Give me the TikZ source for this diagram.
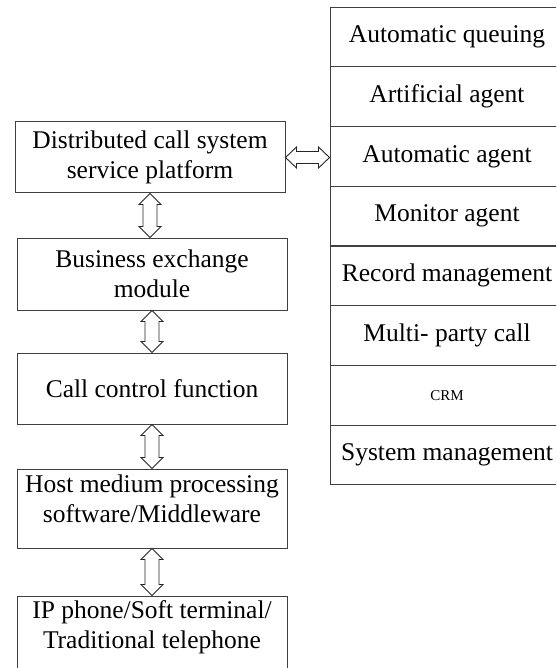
\documentclass[tikz,border=0pt]{standalone}
\usepackage{fontspec}
\setmainfont{Liberation Serif}
\usetikzlibrary{calc}
\tikzset{
  lbox/.style={draw=black!75, line width=1pt, minimum width=270pt, align=center, inner sep=0pt, font=\fontsize{25.5}{30}\selectfont},
  rrow/.style={draw=black!75, line width=1pt, minimum width=234pt, minimum height=59.75pt, inner sep=0pt, font=\fontsize{25.5}{30}\selectfont},
  harrow/.style={draw=black!85, line width=0.9pt, fill=white, line join=miter}
}
\newcommand\vdarr[2]{\draw[harrow] let \p1=(#1), \p2=(#2) in
  (\x1,\y1) -- (\x1+11pt,\y1-11pt) -- (\x1+7pt,\y1-11pt) -- (\x1+7pt,\y2+11pt) -- (\x1+11pt,\y2+11pt) -- (\x1,\y2)
  -- (\x1-11pt,\y2+11pt) -- (\x1-7pt,\y2+11pt) -- (\x1-7pt,\y1-11pt) -- (\x1-11pt,\y1-11pt) -- cycle;}
\newcommand\hdarr[2]{\draw[harrow] let \p1=(#1), \p2=(#2) in
  (\x1,\y1) -- (\x1+11pt,\y1+10.5pt) -- (\x1+11pt,\y1+6pt) -- (\x2-11pt,\y1+6pt) -- (\x2-11pt,\y1+10.5pt) -- (\x2,\y1)
  -- (\x2-11pt,\y1-10.5pt) -- (\x2-11pt,\y1-6pt) -- (\x1+11pt,\y1-6pt) -- (\x1+11pt,\y1-10.5pt) -- cycle;}
\begin{document}
\begin{tikzpicture}[x=1pt,y=-1pt]
\useasboundingbox (0,0) rectangle (556,668);
\clip (0,0) rectangle (556,668);
% left column
\node[lbox, minimum height=71pt] (b1) at (150,157.5) {Distributed call system\\service platform};
\node[lbox, minimum height=72pt] (b2) at (152,274) {Business exchange\\module};
\node[lbox, minimum height=71pt] (b3) at (152,388.5) {Call control function};
\node[lbox, minimum height=79pt, text depth=19pt] (b4) at (152,508.5) {Host medium processing\\software/Middleware};
\node[lbox, minimum height=80pt, text depth=22pt] (b5) at (152,636) {IP phone/Soft terminal/\\Traditional telephone};
% right column
\node[rrow] (r1) at (447,36.9) {Automatic queuing};
\node[rrow] (r2) at (447,96.6) {Artificial agent};
\node[rrow] (r3) at (447,156.4) {Automatic agent};
\node[rrow] (r4) at (447,216.1) {Monitor agent};
\node[rrow] (r5) at (447,275.9) {Record management};
\node[rrow] (r6) at (447,335.6) {Multi- party call};
\node[rrow, font=\fontsize{15}{18}\selectfont] (r7) at (447,395.4) {CRM};
\node[rrow] (r8) at (447,455.1) {System management};
% arrows
\vdarr{b1.south}{b2.north}
\vdarr{b2.south}{b3.north}
\vdarr{b3.south}{b4.north}
\vdarr{b4.south}{b5.north}
\hdarr{b1.east}{b1.east -| r3.west}
\end{tikzpicture}
\end{document}
